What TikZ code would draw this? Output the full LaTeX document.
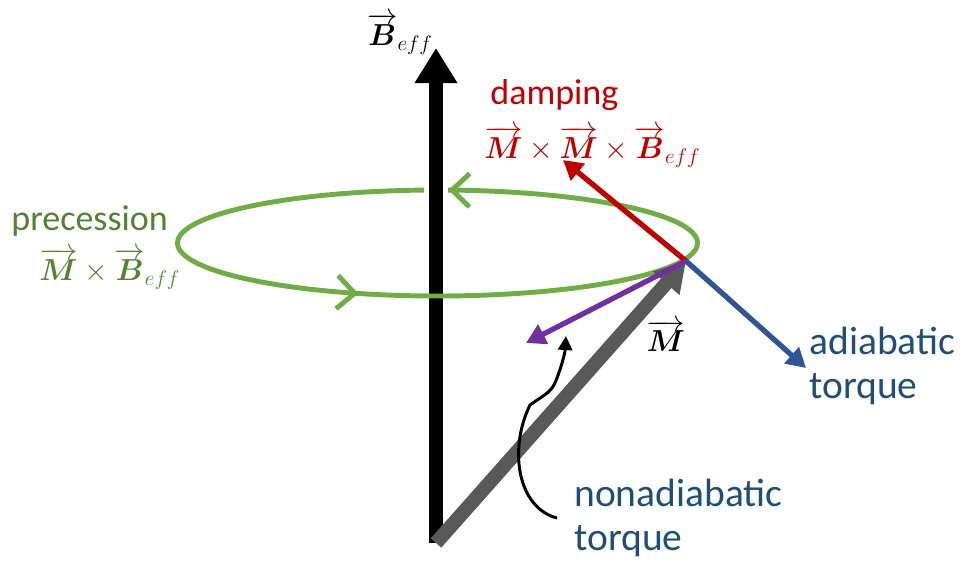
\documentclass[tikz,border=0pt]{standalone}
\usepackage{amsmath}
\usepackage{amssymb}
\usepackage{fontspec}
\setmainfont{Carlito}
\usetikzlibrary{arrows.meta,positioning,calc,decorations.markings}
\definecolor{prgreen}{RGB}{112,173,71}
\definecolor{prgreentxt}{RGB}{84,130,53}
\definecolor{dmred}{RGB}{192,0,0}
\definecolor{adblue}{RGB}{47,85,151}
\definecolor{adbluetxt}{RGB}{31,78,121}
\definecolor{nadpurple}{RGB}{112,48,160}
\definecolor{mgris}{RGB}{89,89,89}

\begin{document}
\begin{tikzpicture}[x=0.02cm,y=-0.02cm,
  lab/.style={inner sep=0pt, font=\fontsize{20.5}{25}\selectfont},
  mlab/.style={inner sep=0pt, font=\fontsize{18.5}{22}\selectfont},
  biglab/.style={inner sep=0pt, align=left, font=\fontsize{22.5}{25.5}\selectfont},
  field/.style={line width=8pt, -{Triangle[length=20pt,width=23pt]}},
  torque/.style={line width=3pt, -{Triangle[length=11pt,width=12pt]}},
  prec/.style={prgreen, line width=2.8pt, postaction=decorate},
  chev/.style={decoration={markings, mark=at position #1 with
    {\arrow[prgreen, line width=2.8pt]{Straight Barb[length=10pt,width=19pt]}}}}
]
  \useasboundingbox (0,0) rectangle (964,564);

  % points
  \coordinate (orig)  at (436,543);
  \coordinate (btop)  at (436,48);
  \coordinate (mtip)  at (686,261);
  \coordinate (ectr)  at (437.5,243);
  \coordinate (eright) at (697.5,243);
  \coordinate (eleft) at (177.5,243);
  \coordinate (dtip)  at (563,160);
  \coordinate (atip)  at (806,368);
  \coordinate (ntip)  at (526,343);
  \coordinate (cstart) at (557,518);
  \coordinate (cend)  at (566,336);

  % precession loop, upper half behind the field
  \draw[prec, chev=0.48] (eright) arc[start angle=0, end angle=-180, x radius=260, y radius=53];
  \draw[white, line width=14pt] (436,175) -- (436,205);
  \draw[field] (orig) -- (btop);
  \draw[prec, chev=0.355] (eleft) arc[start angle=180, end angle=0, x radius=260, y radius=53];

  % magnetization and torques
  \draw[mgris, line width=8pt, -{Triangle[length=17pt,width=19pt]}] (orig) -- (mtip);
  \draw[torque, dmred] (mtip) -- (dtip);
  \draw[torque, adblue] (mtip) -- (atip);
  \draw[torque, nadpurple] (mtip) -- (ntip);
  \draw[line width=1.7pt, -{Triangle[length=8pt,width=8pt]}] (cstart)
    .. controls (518,508) and (508,450) .. (530,405)
    .. controls (547,393) and (552,392) .. (557,378)
    .. controls (563,362) and (565,352) .. (cend);

  % labels
  \node[mlab] (beff) at (400,34) {$\overrightarrow{\boldsymbol{B}}_{eff}$};
  \node[lab, dmred, anchor=west] (damp) at (490,95) {damping};
  \node[mlab, dmred, anchor=west] (dampeq) at (484,147)
    {$\overrightarrow{\boldsymbol{M}}\times\overrightarrow{\boldsymbol{M}}\times\overrightarrow{\boldsymbol{B}}_{eff}$};
  \node[lab, prgreentxt, anchor=west] (prec) at (11,221) {precession};
  \node[mlab, prgreentxt, anchor=west] (preceq) at (39,269)
    {$\overrightarrow{\boldsymbol{M}}\times\overrightarrow{\boldsymbol{B}}_{eff}$};
  \node[mlab] (mlab) at (666,336) {$\overrightarrow{\boldsymbol{M}}$};
  \node[biglab, adbluetxt, anchor=west] (adiab) at (809,366) {adiabatic\\torque};
  \node[biglab, adbluetxt, anchor=west] (nonad) at (574,518) {nonadiabatic\\torque};
\end{tikzpicture}
\end{document}
